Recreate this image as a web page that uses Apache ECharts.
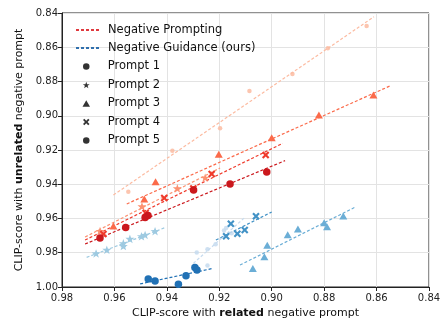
<!DOCTYPE html>
<html>
<head>
<meta charset="utf-8">
<script src="https://cdn.jsdelivr.net/npm/echarts@6/dist/echarts.min.js"></script>
<style>
html,body{margin:0;padding:0;background:#fff;}
#chart{width:442px;height:323px;}
</style>
</head>
<body>
<div id="chart"></div>
<script>
// ---- Data (x: CLIP-score with related negative prompt, y: with unrelated) ----
const promptNames = ['Prompt 1', 'Prompt 2', 'Prompt 3', 'Prompt 4', 'Prompt 5'];

// Negative Prompting (reds)
const negPrompt1 = [[0.8638,0.8476],[0.8786,0.8606],[0.8921,0.8756],[0.9085,0.8855],[0.9197,0.9073],[0.9379,0.9204],[0.9547,0.9444]];
const negPrompt2 = [[0.9254,0.9362],[0.9360,0.9424],[0.9495,0.9529],[0.9655,0.9673]];
const negPrompt3 = [[0.8612,0.8879],[0.8820,0.8996],[0.9000,0.9128],[0.9202,0.9225],[0.9443,0.9385],[0.9486,0.9486],[0.9604,0.9644]];
const negPrompt4 = [[0.9023,0.9229],[0.9229,0.9340],[0.9299,0.9425],[0.9410,0.9480],[0.9481,0.9568],[0.9642,0.9690]];
const negPrompt5 = [[0.9019,0.9328],[0.9159,0.9399],[0.9298,0.9434],[0.9472,0.9583],[0.9483,0.9594],[0.9557,0.9653],[0.9655,0.9714]];

// Negative Guidance (blues)
const negGuide1 = [[0.9286,0.9799],[0.9245,0.9780],[0.9214,0.9751],[0.9182,0.9670],[0.9174,0.9655],[0.9153,0.9686],[0.9245,0.9874]];
const negGuide2 = [[0.9670,0.9804],[0.9629,0.9783],[0.9566,0.9745],[0.9566,0.9761],[0.9541,0.9719],[0.9497,0.9704],[0.9483,0.9696],[0.9445,0.9674]];
const negGuide3 = [[0.8727,0.9585],[0.8789,0.9648],[0.8800,0.9625],[0.8900,0.9661],[0.8939,0.9695],[0.9017,0.9756],[0.9028,0.9823],[0.9072,0.9892]];
const negGuide4 = [[0.9060,0.9587],[0.9156,0.9630],[0.9103,0.9667],[0.9131,0.9689],[0.9174,0.9704]];
const negGuide5 = [[0.9471,0.9953],[0.9445,0.9965],[0.9356,0.9984],[0.9327,0.9934],[0.9293,0.9886],[0.9285,0.9901]];

// Fitted trend lines (endpoints, data space)
const negPromptLine1 = [[0.9604,0.9463],[0.8610,0.8422]];
const negPromptLine2 = [[0.9712,0.9708],[0.9197,0.9305]];
const negPromptLine3 = [[0.9553,0.9515],[0.8549,0.8826]];
const negPromptLine4 = [[0.9712,0.9726],[0.8958,0.9161]];
const negPromptLine5 = [[0.9712,0.9749],[0.8949,0.9262]];
const negGuideLine1 = [[0.9299,0.9862],[0.9102,0.9593]];
const negGuideLine2 = [[0.9706,0.9827],[0.9403,0.9651]];
const negGuideLine3 = [[0.9121,0.9872],[0.8678,0.9531]];
const negGuideLine4 = [[0.9213,0.9726],[0.9000,0.9562]];
const negGuideLine5 = [[0.9502,0.9982],[0.9223,0.9891]];

const axisMin = 0.84, xMax = 0.98, yMax = 1.00, tickStep = 0.02;

// ---- Styling ----
const reds  = ['#fcbba1', '#fc9272', '#fb6a4a', '#ef3b2c', '#cb181d'];
const blues = ['#c6dbef', '#9ecae1', '#6baed6', '#4292c6', '#2171b5'];
const starPath = 'path://M0,-10 L2.35,-3.24 L9.51,-3.09 L3.8,1.24 L5.88,8.09 L0,4 L-5.88,8.09 L-3.8,1.24 L-9.51,-3.09 L-2.35,-3.24 Z';
const xPath = 'path://M-10,-6 L-6,-10 L0,-4 L6,-10 L10,-6 L4,0 L10,6 L6,10 L0,4 L-6,10 L-10,6 L-4,0 Z';
const triPath = 'path://M0,-10 L10,7.3 L-10,7.3 Z';
const symbols = ['circle', starPath, triPath, xPath, 'circle'];
const sizes = [4.5, 9, 8, 7.5, 7.5];

const npPts = [negPrompt1, negPrompt2, negPrompt3, negPrompt4, negPrompt5];
const ngPts = [negGuide1, negGuide2, negGuide3, negGuide4, negGuide5];
const npLines = [negPromptLine1, negPromptLine2, negPromptLine3, negPromptLine4, negPromptLine5];
const ngLines = [negGuideLine1, negGuideLine2, negGuideLine3, negGuideLine4, negGuideLine5];

const series = [];
function addGroup(pts, lines, colors, tag) {
  for (let i = 0; i < 5; i++) {
    series.push({
      name: tag + ' line ' + (i + 1), type: 'line', data: lines[i],
      symbol: 'none', silent: true, z: 2,
      lineStyle: { color: colors[i], width: 1.2, type: [3, 2] }
    });
    series.push({
      name: tag + ' pts ' + (i + 1), type: 'scatter', data: pts[i],
      symbol: symbols[i], symbolSize: sizes[i], symbolKeepAspect: true, z: 3,
      itemStyle: { color: colors[i], opacity: i === 0 ? 0.85 : 1 }
    });
  }
}
addGroup(npPts, npLines, reds, 'np');
addGroup(ngPts, ngLines, blues, 'ng');

// legend dummy series
series.push({ name: 'Negative Prompting', type: 'line', data: [], symbol: 'none',
  lineStyle: { color: '#e0393e', width: 1, type: [3, 2] }, itemStyle: { color: '#e0393e' } });
series.push({ name: 'Negative Guidance (ours)', type: 'line', data: [], symbol: 'none',
  lineStyle: { color: '#2f6fad', width: 1, type: [3, 2] }, itemStyle: { color: '#2f6fad' } });
for (let i = 0; i < 5; i++) {
  series.push({ name: promptNames[i], type: 'scatter', data: [], symbol: symbols[i],
    symbolKeepAspect: true, itemStyle: { color: '#000' } });
}

const fmt = v => v.toFixed(2);
const font = 'DejaVu Sans';

const option = {
  animation: false,
  backgroundColor: '#fff',
  grid: { left: 62, right: 13, top: 13, bottom: 36, show: true, borderColor: '#222', borderWidth: 1,
          containLabel: false, outerBoundsMode: 'none' },
  legend: [
    {
      data: [
        { name: 'Negative Prompting', itemStyle: { opacity: 0 } },
        { name: 'Negative Guidance (ours)', itemStyle: { opacity: 0 } }
      ],
      orient: 'vertical', left: 70, top: 19, itemWidth: 25, itemHeight: 10, itemGap: 6,
      textStyle: { fontFamily: font, fontSize: 11.5, color: '#111', padding: [0, 0, 0, 2] },
      selectedMode: false
    },
    {
      data: promptNames.map((n, i) => ({ name: n, icon: symbols[i] })),
      orient: 'vertical', left: 77.5, top: 55.5, itemWidth: 25, itemHeight: 6.5, itemGap: 6.5,
      symbolKeepAspect: true,
      textStyle: { fontFamily: font, fontSize: 11.5, color: '#111', padding: [0, 0, 0, 4] },
      selectedMode: false
    }
  ],
  xAxis: {
    type: 'value', inverse: true, min: axisMin, max: xMax, interval: tickStep,
    axisLine: { show: true, lineStyle: { color: '#222', width: 1 } },
    axisTick: { show: true, length: 4, lineStyle: { color: '#222' } },
    axisLabel: { formatter: fmt, fontFamily: font, fontSize: 10, color: '#222', margin: 6 },
    splitLine: { show: true, lineStyle: { color: '#e3e3e3', width: 1 } },
    name: '{n|CLIP-score with }{b|related}{n| negative prompt}',
    nameLocation: 'middle', nameGap: 21,
    nameTextStyle: { rich: {
      n: { fontFamily: font, fontSize: 11, color: '#111' },
      b: { fontFamily: font, fontSize: 11, fontWeight: 'bold', color: '#111' } } }
  },
  yAxis: {
    type: 'value', inverse: true, min: axisMin, max: yMax, interval: tickStep,
    axisLine: { show: true, lineStyle: { color: '#222', width: 1 } },
    axisTick: { show: true, length: 4, lineStyle: { color: '#222' } },
    axisLabel: { formatter: fmt, fontFamily: font, fontSize: 10, color: '#222', margin: 4 },
    splitLine: { show: true, lineStyle: { color: '#e3e3e3', width: 1 } },
    name: '{n|CLIP-score with }{b|unrelated}{n| negative prompt}',
    nameLocation: 'middle', nameGap: 36,
    nameTextStyle: { rich: {
      n: { fontFamily: font, fontSize: 11, color: '#111' },
      b: { fontFamily: font, fontSize: 11, fontWeight: 'bold', color: '#111' } } }
  },
  series: series
};

const chart = echarts.init(document.getElementById('chart'), null, { renderer: 'canvas' });
chart.setOption(option);
</script>
</body>
</html>
